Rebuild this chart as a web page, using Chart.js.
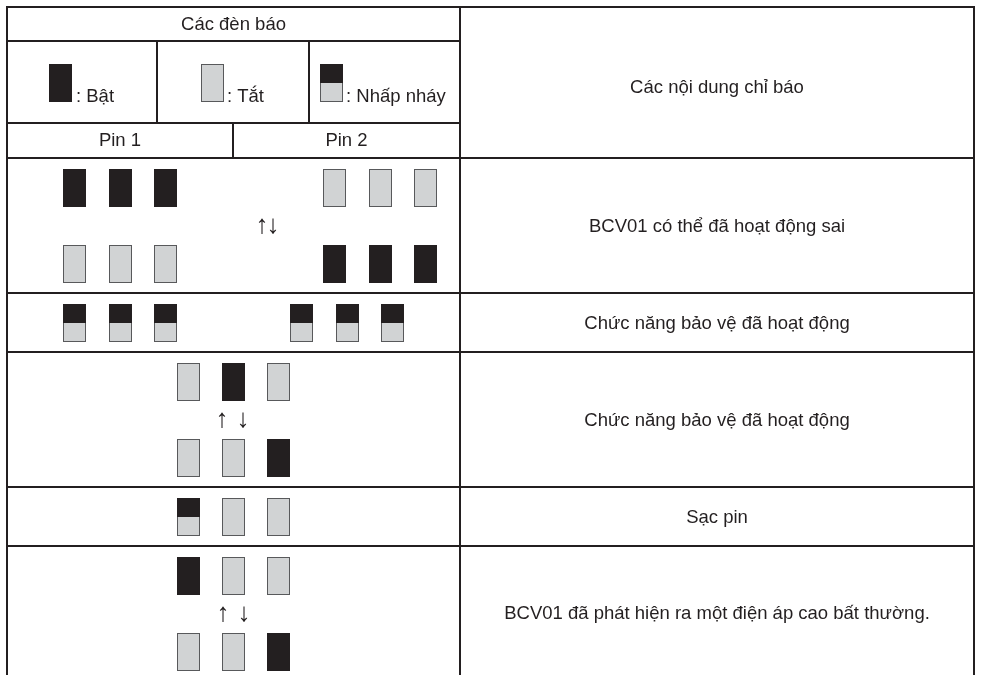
<!DOCTYPE html>
<html>
<head>
<meta charset="utf-8">
<script src="https://cdn.jsdelivr.net/npm/chart.js@4/dist/chart.umd.min.js"></script>
<style>
html,body{margin:0;padding:0;background:#ffffff;}
#wrap{width:981px;height:675px;}
canvas{display:block;}
</style>
</head>
<body>
<div id="wrap"><canvas id="c" width="981" height="675"></canvas></div>
<script>
// ---------- DATA ----------
const indicatorTitle = 'Các đèn báo';
const contentTitle = 'Các nội dung chỉ báo';
const legendStates = ['on', 'off', 'blink'];
const legendLabels = [': Bật', ': Tắt', ': Nhấp nháy'];
const pinLabels = ['Pin 1', 'Pin 2'];
const rowDescriptions = [
  'BCV01 có thể đã hoạt động sai',
  'Chức năng bảo vệ đã hoạt động',
  'Chức năng bảo vệ đã hoạt động',
  'Sạc pin',
  'BCV01 đã phát hiện ra một điện áp cao bất thường.'
];
// lamp states (Pin 1 lamps then Pin 2 lamps, or a single 3-lamp group)
const row1Top    = ['on', 'on', 'on', 'off', 'off', 'off'];
const row1Bottom = ['off', 'off', 'off', 'on', 'on', 'on'];
const row2Lamps  = ['blink', 'blink', 'blink', 'blink', 'blink', 'blink'];
const row3Top    = ['off', 'on', 'off'];
const row3Bottom = ['off', 'off', 'on'];
const row4Lamps  = ['blink', 'off', 'off'];
const row5Top    = ['on', 'off', 'off'];
const row5Bottom = ['off', 'off', 'on'];
const alternationSymbols = ['↑↓', '↑ ↓', '↑ ↓'];

// ---------- LAYOUT (drawing units, mapped through the chart scales) ----------
const W = 981, H = 675;
const LAMP_W = 23, LAMP_H = 38;
const INK = '#231f20';
const OFF_FILL = '#d1d3d4';
const OFF_EDGE = '#58595b';
const FONT = '18.5px "Liberation Sans", Arial, Helvetica, sans-serif';
const ARROW_FONT = '200 26px "Liberation Sans", Arial, sans-serif';

const tableLeft = 7, tableMid = 460, tableRight = 974;
const rowBounds = [158, 293, 352, 487, 546, 680];

const lampLines = [
  { top: 169, groups: [{ x: 63, p: 45.5 }, { x: 323, p: 45.5 }], states: row1Top },
  { top: 245, groups: [{ x: 63, p: 45.5 }, { x: 323, p: 45.5 }], states: row1Bottom },
  { top: 304, groups: [{ x: 63, p: 45.5 }, { x: 290, p: 45.5 }], states: row2Lamps },
  { top: 363, groups: [{ x: 177, p: 45 }], states: row3Top },
  { top: 439, groups: [{ x: 177, p: 45 }], states: row3Bottom },
  { top: 498, groups: [{ x: 177, p: 45 }], states: row4Lamps },
  { top: 557, groups: [{ x: 177, p: 45 }], states: row5Top },
  { top: 633, groups: [{ x: 177, p: 45 }], states: row5Bottom }
];
const legendLampLefts = [49, 201, 320];
const legendLampTop = 64;
const legendTextX = [76, 227, 346];
const arrowSpots = [
  { x: [262, 273], y: 226 },
  { x: [222, 243], y: 420 },
  { x: [223, 244], y: 614 }
];

// ---------- lamp images ----------
function lampImage(state) {
  const c = document.createElement('canvas');
  c.width = LAMP_W; c.height = LAMP_H;
  const g = c.getContext('2d');
  if (state === 'on') {
    g.fillStyle = INK; g.fillRect(0, 0, LAMP_W, LAMP_H);
  } else {
    g.fillStyle = OFF_EDGE; g.fillRect(0, 0, LAMP_W, LAMP_H);
    g.fillStyle = OFF_FILL; g.fillRect(1, 1, LAMP_W - 2, LAMP_H - 2);
    if (state === 'blink') { g.fillStyle = INK; g.fillRect(0, 0, LAMP_W, 19); }
  }
  return c;
}
const images = { on: lampImage('on'), off: lampImage('off'), blink: lampImage('blink') };

// ---------- build points ----------
const pts = { on: [], off: [], blink: [] };
lampLines.forEach(line => {
  line.states.forEach((s, i) => {
    const grp = line.groups[Math.floor(i / 3)];
    const left = Math.round(grp.x + (i % 3) * grp.p);
    pts[s].push({ x: left + LAMP_W / 2, y: line.top + LAMP_H / 2 });
  });
});
legendStates.forEach((s, i) => {
  pts[s].push({ x: legendLampLefts[i] + LAMP_W / 2, y: legendLampTop + LAMP_H / 2 });
});

// ---------- table plugin ----------
const tablePlugin = {
  id: 'tablePlugin',
  beforeDatasetsDraw(chart) {
    const ctx = chart.ctx;
    const X = v => chart.scales.x.getPixelForValue(v);
    const Y = v => chart.scales.y.getPixelForValue(v);
    ctx.save();
    ctx.strokeStyle = INK;
    ctx.lineWidth = 2;
    ctx.lineCap = 'square';
    const line = (x1, y1, x2, y2) => {
      ctx.beginPath(); ctx.moveTo(X(x1), Y(y1)); ctx.lineTo(X(x2), Y(y2)); ctx.stroke();
    };
    line(tableLeft, 7, tableRight, 7);
    line(tableLeft, 41, tableMid, 41);
    line(tableLeft, 123, tableMid, 123);
    rowBounds.forEach(y => line(tableLeft, y, tableRight, y));
    line(tableLeft, 7, tableLeft, 690);
    line(tableMid, 7, tableMid, 690);
    line(tableRight, 7, tableRight, 690);
    line(157, 41, 157, 123);
    line(309, 41, 309, 123);
    line(233, 123, 233, 158);

    ctx.fillStyle = INK;
    ctx.font = FONT;
    ctx.textBaseline = 'alphabetic';
    ctx.textAlign = 'center';
    const midL = (tableLeft + tableMid) / 2;
    const midR = (tableMid + tableRight) / 2;
    ctx.fillText(indicatorTitle, X(midL), Y(30));
    ctx.fillText(pinLabels[0], X((tableLeft + 233) / 2), Y(146));
    ctx.fillText(pinLabels[1], X((233 + tableMid) / 2), Y(146));
    ctx.fillText(contentTitle, X(midR), Y(93));
    rowDescriptions.forEach((t, i) => {
      const c = (rowBounds[i] + rowBounds[i + 1]) / 2;
      ctx.fillText(t, X(midR), Y(c + 6));
    });
    ctx.textAlign = 'left';
    legendLabels.forEach((t, i) => ctx.fillText(t, X(legendTextX[i]), Y(102)));
    ctx.font = ARROW_FONT;
    ctx.textAlign = 'center';
    ctx.textBaseline = 'middle';
    arrowSpots.forEach((a, i) => {
      const syms = alternationSymbols[i].replace(' ', '').split('');
      syms.forEach((s, k) => ctx.fillText(s, X(a.x[k]), Y(a.y)));
    });
    ctx.restore();
  }
};

const mk = (state) => ({
  label: state,
  data: pts[state],
  pointStyle: images[state],
  pointRadius: 10,
  pointHoverRadius: 10,
  showLine: false
});

new Chart(document.getElementById('c'), {
  type: 'scatter',
  data: { datasets: [mk('on'), mk('off'), mk('blink')] },
  options: {
    responsive: false,
    animation: false,
    events: [],
    devicePixelRatio: 1,
    layout: { padding: 0, autoPadding: false },
    plugins: { legend: { display: false }, tooltip: { enabled: false }, title: { display: false } },
    scales: {
      x: { type: 'linear', min: 0, max: W, display: false },
      y: { type: 'linear', min: 0, max: H, reverse: true, display: false }
    }
  },
  plugins: [tablePlugin]
});
</script>
</body>
</html>
